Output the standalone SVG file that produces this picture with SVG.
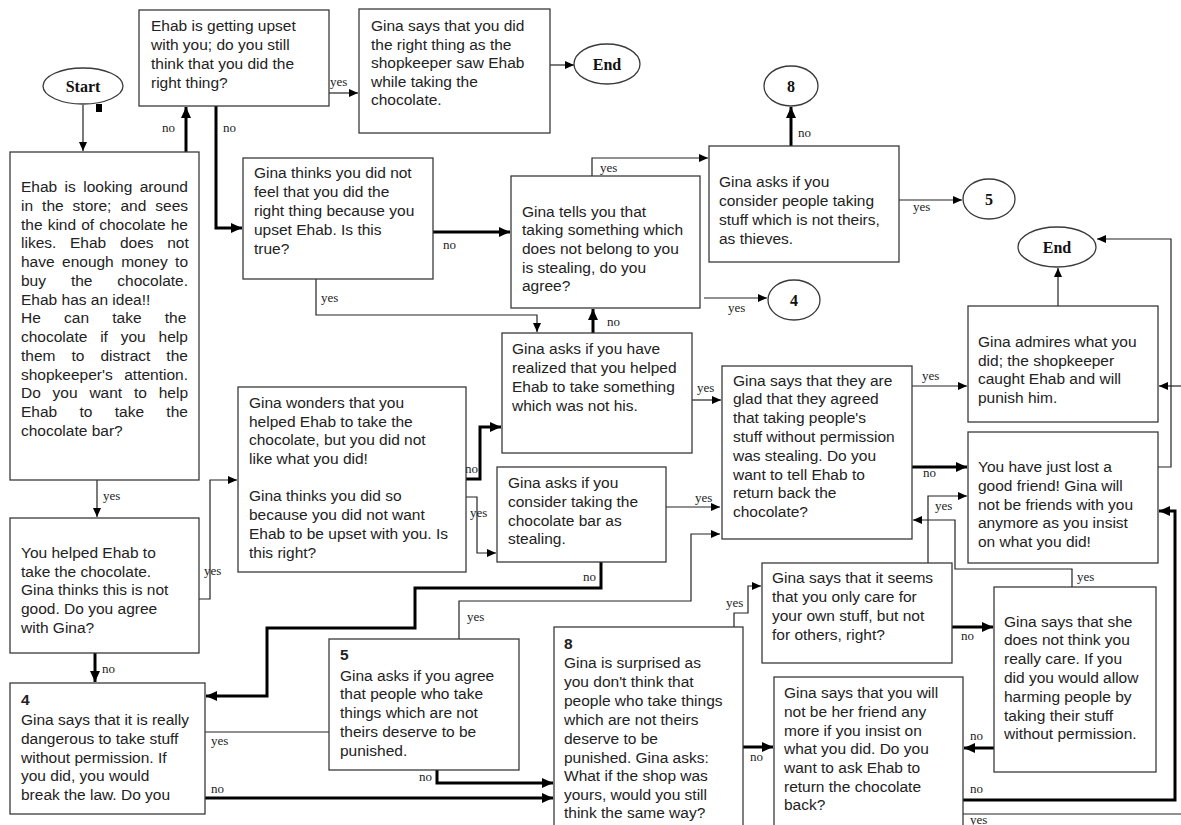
<svg xmlns="http://www.w3.org/2000/svg" width="1181" height="825" viewBox="0 0 1181 825">
<style>
.box{fill:#fff;stroke:#3a3a3a;stroke-width:1.3}
.ell{fill:#fff;stroke:#3a3a3a;stroke-width:1.3}
.t{font-family:"Liberation Sans",Arial,sans-serif;font-size:15.5px;fill:#222}
.b{font-weight:bold}
.lbl{font-family:"Liberation Serif","Times New Roman",serif;font-size:13px;fill:#222}
.term{font-family:"Liberation Serif","Times New Roman",serif;font-weight:bold;font-size:16px;fill:#111;text-anchor:middle}
.thin{fill:none;stroke:#222;stroke-width:1.2}
.thick{fill:none;stroke:#000;stroke-width:3}
.ta{marker-end:url(#ah)}
.ka{marker-end:url(#ahk)}
</style>
<defs>
<marker id="ah" markerUnits="userSpaceOnUse" markerWidth="9" markerHeight="8" refX="9" refY="4" orient="auto"><path d="M0,0 L9,4 L0,8 z" fill="#000"/></marker>
<marker id="ahk" markerUnits="userSpaceOnUse" markerWidth="11" markerHeight="10" refX="11" refY="5" orient="auto"><path d="M0,0 L11,5 L0,10 z" fill="#000"/></marker>
</defs>
<rect width="1181" height="825" fill="#fff"/>

<g id="connectors">
<path class="thin ta" d="M83,105 V151"/>
<path class="thick ka" d="M186,152 V107"/>
<path class="thick ka" d="M216,106 V228 H242"/>
<path class="thin ta" d="M329,93 H358"/>
<path class="thin ta" d="M550,65 H574"/>
<path class="thick ka" d="M433,232 H510"/>
<path class="thin ta" d="M316,279 V315 H537 V332"/>
<path class="thin ta" d="M592,176 V158 H708"/>
<path class="thick ka" d="M791,146 V107"/>
<path class="thin ta" d="M899,200 H962"/>
<path class="thin ta" d="M704,298 H767"/>
<path class="thick ka" d="M593,333 V309"/>
<path class="thin ta" d="M692,400 H721"/>
<path class="thin ta" d="M912,386 H967"/>
<path class="thick ka" d="M912,467 H967"/>
<path class="thin ta" d="M1158,467 H1171 V239 H1097"/>
<path class="thin ta" d="M1058,306 V268"/>
<path class="thin ta" d="M1181,386 H1159"/>
<path class="thin ta" d="M928,563 V496 H967"/>
<path class="thin ta" d="M1072,587 V569 H955 V520 H913"/>
<path class="thick ka" d="M952,627 H993"/>
<path class="thick ka" d="M994,748 H964"/>
<path class="thick ka" d="M963,800 H1175 V511 H1159"/>
<path class="thin" d="M963,814 H1181"/>
<path class="thick ka" d="M466,479 H480 V427 H501"/>
<path class="thin ta" d="M463,497 H477 V553 H496"/>
<path class="thin ta" d="M666,507 H720"/>
<path class="thin ta" d="M459,640 V601 H691 V534 H720"/>
<path class="thick ka" d="M601,562 V588 H415 V628 H267 V696 H206"/>
<path class="thin ta" d="M97,480 V517"/>
<path class="thin ta" d="M199,599 H210 V480 H237"/>
<path class="thick ka" d="M95,653 V682"/>
<path class="thin" d="M205,732 H329"/>
<path class="thick ka" d="M205,798 H553"/>
<path class="thick ka" d="M437,770 V783 H553"/>
<path class="thick ka" d="M743,747 H773"/>
<path class="thin ta" d="M734,627 V613 H748 V586 H761"/>
<g class="lbl">
<text x="162" y="132">no</text>
<text x="223" y="132">no</text>
<text x="330" y="86">yes</text>
<text x="443" y="249">no</text>
<text x="321" y="302">yes</text>
<text x="600" y="172">yes</text>
<text x="798" y="137">no</text>
<text x="913" y="211">yes</text>
<text x="728" y="312">yes</text>
<text x="607" y="326">no</text>
<text x="697" y="392">yes</text>
<text x="922" y="380">yes</text>
<text x="923" y="477">no</text>
<text x="935" y="510">yes</text>
<text x="1077" y="581">yes</text>
<text x="465" y="473">no</text>
<text x="470" y="517">yes</text>
<text x="695" y="502">yes</text>
<text x="583" y="581">no</text>
<text x="467" y="621">yes</text>
<text x="103" y="500">yes</text>
<text x="204" y="575">yes</text>
<text x="102" y="673">no</text>
<text x="211" y="745">yes</text>
<text x="211" y="793">no</text>
<text x="419" y="781">no</text>
<text x="750" y="761">no</text>
<text x="726" y="607">yes</text>
<text x="961" y="640">no</text>
<text x="970" y="740">no</text>
<text x="970" y="793">no</text>
<text x="970" y="824">yes</text>
</g>
</g>

<g id="start">
<ellipse class="ell" cx="83" cy="86" rx="40" ry="18"/>
<text class="term" x="83" y="92">Start</text>
<rect x="96" y="104" width="6" height="8" fill="#000"/>
</g>

<g id="n-intro">
<rect class="box" x="10" y="152" width="189" height="328"/>
<g class="t">
<text x="21" y="192" word-spacing="3.1">Ehab is looking around</text>
<text x="21" y="211" word-spacing="4.7">in the store; and sees</text>
<text x="21" y="230" word-spacing="0.8">the kind of chocolate he</text>
<text x="21" y="248" word-spacing="9.4">likes. Ehab does not</text>
<text x="21" y="267" word-spacing="3.1">have enough money to</text>
<text x="21" y="286" word-spacing="20.6">buy the chocolate.</text>
<text x="21" y="305">Ehab has an idea!!</text>
<text x="21" y="323" word-spacing="18.9">He can take the</text>
<text x="21" y="342" word-spacing="8.5">chocolate if you help</text>
<text x="21" y="361" word-spacing="11.7">them to distract the</text>
<text x="21" y="380" word-spacing="7.2">shopkeeper's attention.</text>
<text x="21" y="398" word-spacing="7.5">Do you want to help</text>
<text x="21" y="417" word-spacing="18">Ehab to take the</text>
<text x="21" y="436">chocolate bar?</text>
</g>
</g>

<g id="n-upset">
<rect class="box" x="139" y="10" width="190" height="96"/>
<g class="t">
<text x="151" y="31">Ehab is getting upset</text>
<text x="151" y="50">with you; do you still</text>
<text x="151" y="69">think that you did the</text>
<text x="151" y="88">right thing?</text>
</g>
</g>

<g id="n-right-thing">
<rect class="box" x="359" y="9" width="191" height="124"/>
<g class="t">
<text x="371" y="31">Gina says that you did</text>
<text x="371" y="50">the right thing as the</text>
<text x="371" y="68">shopkeeper saw Ehab</text>
<text x="371" y="87">while taking the</text>
<text x="371" y="105">chocolate.</text>
</g>
</g>

<g id="end1">
<ellipse class="ell" cx="607" cy="64" rx="33" ry="20"/>
<text class="term" x="607" y="70">End</text>
</g>

<g id="n-upset-ehab">
<rect class="box" x="243" y="158" width="190" height="121"/>
<g class="t">
<text x="254" y="178">Gina thinks you did not</text>
<text x="254" y="197">feel that you did the</text>
<text x="254" y="216">right thing because you</text>
<text x="254" y="235">upset Ehab. Is this</text>
<text x="254" y="254">true?</text>
</g>
</g>

<g id="n-stealing">
<rect class="box" x="511" y="176" width="189" height="132"/>
<g class="t">
<text x="522" y="217">Gina tells you that</text>
<text x="522" y="235">taking something which</text>
<text x="522" y="254">does not belong to you</text>
<text x="522" y="273">is stealing, do you</text>
<text x="522" y="291">agree?</text>
</g>
</g>

<g id="n-thieves">
<rect class="box" x="709" y="146" width="190" height="116"/>
<g class="t">
<text x="719" y="187">Gina asks if you</text>
<text x="719" y="206">consider people taking</text>
<text x="719" y="225">stuff which is not theirs,</text>
<text x="719" y="244">as thieves.</text>
</g>
</g>

<g id="c8">
<ellipse class="ell" cx="791" cy="86" rx="27" ry="20"/>
<text class="term" x="791" y="92">8</text>
</g>
<g id="c5">
<ellipse class="ell" cx="989" cy="199" rx="26" ry="20"/>
<text class="term" x="989" y="205">5</text>
</g>
<g id="c4">
<ellipse class="ell" cx="794" cy="300" rx="26" ry="20"/>
<text class="term" x="794" y="306">4</text>
</g>
<g id="end2">
<ellipse class="ell" cx="1057" cy="247" rx="39" ry="20"/>
<text class="term" x="1057" y="253">End</text>
</g>

<g id="n-realized">
<rect class="box" x="502" y="333" width="190" height="120"/>
<g class="t">
<text x="512" y="354">Gina asks if you have</text>
<text x="512" y="373">realized that you helped</text>
<text x="512" y="392">Ehab to take something</text>
<text x="512" y="411">which was not his.</text>
</g>
</g>

<g id="n-glad">
<rect class="box" x="722" y="366" width="190" height="173"/>
<g class="t">
<text x="733" y="386">Gina says that they are</text>
<text x="733" y="404">glad that they agreed</text>
<text x="733" y="423">that taking people's</text>
<text x="733" y="442">stuff without permission</text>
<text x="733" y="461">was stealing. Do you</text>
<text x="733" y="480">want to tell Ehab to</text>
<text x="733" y="498">return back the</text>
<text x="733" y="517">chocolate?</text>
</g>
</g>

<g id="n-admires">
<rect class="box" x="968" y="306" width="190" height="116"/>
<g class="t">
<text x="978" y="347">Gina admires what you</text>
<text x="978" y="366">did; the shopkeeper</text>
<text x="978" y="384">caught Ehab and will</text>
<text x="978" y="403">punish him.</text>
</g>
</g>

<g id="n-lost-friend">
<rect class="box" x="968" y="432" width="190" height="131"/>
<g class="t">
<text x="978" y="472">You have just lost a</text>
<text x="978" y="491">good friend! Gina will</text>
<text x="978" y="510">not be friends with you</text>
<text x="978" y="528">anymore as you insist</text>
<text x="978" y="547">on what you did!</text>
</g>
</g>

<g id="n-own-stuff">
<rect class="box" x="762" y="563" width="190" height="100"/>
<g class="t">
<text x="772" y="583">Gina says that it seems</text>
<text x="772" y="602">that you only care for</text>
<text x="772" y="621">your own stuff, but not</text>
<text x="772" y="640">for others, right?</text>
</g>
</g>

<g id="n-not-care">
<rect class="box" x="994" y="587" width="162" height="185"/>
<g class="t">
<text x="1004" y="627">Gina says that she</text>
<text x="1004" y="645">does not think you</text>
<text x="1004" y="664">really care. If you</text>
<text x="1004" y="683">did you would allow</text>
<text x="1004" y="702">harming people by</text>
<text x="1004" y="721">taking their stuff</text>
<text x="1004" y="739">without permission.</text>
</g>
</g>

<g id="n-not-friend">
<rect class="box" x="774" y="677" width="189" height="170"/>
<g class="t">
<text x="784" y="698">Gina says that you will</text>
<text x="784" y="717">not be her friend any</text>
<text x="784" y="736">more if you insist on</text>
<text x="784" y="754">what you did. Do you</text>
<text x="784" y="773">want to ask Ehab to</text>
<text x="784" y="792">return the chocolate</text>
<text x="784" y="810">back?</text>
</g>
</g>

<g id="n-wonders">
<rect class="box" x="238" y="387" width="228" height="185"/>
<g class="t">
<text x="249" y="408">Gina wonders that you</text>
<text x="249" y="427">helped Ehab to take the</text>
<text x="249" y="445">chocolate, but you did not</text>
<text x="249" y="464">like what you did!</text>
<text x="249" y="501">Gina thinks you did so</text>
<text x="249" y="520">because you did not want</text>
<text x="249" y="539">Ehab to be upset with you. Is</text>
<text x="249" y="558">this right?</text>
</g>
</g>

<g id="n-consider">
<rect class="box" x="497" y="467" width="169" height="95"/>
<g class="t">
<text x="508" y="488">Gina asks if you</text>
<text x="508" y="507">consider taking the</text>
<text x="508" y="526">chocolate bar as</text>
<text x="508" y="544">stealing.</text>
</g>
</g>

<g id="n-helped">
<rect class="box" x="10" y="518" width="189" height="135"/>
<g class="t">
<text x="21" y="558">You helped Ehab to</text>
<text x="21" y="577">take the chocolate.</text>
<text x="21" y="595">Gina thinks this is not</text>
<text x="21" y="614">good. Do you agree</text>
<text x="21" y="633">with Gina?</text>
</g>
</g>

<g id="n-4">
<rect class="box" x="10" y="683" width="195" height="131"/>
<g class="t">
<text class="b" x="21" y="705">4</text>
<text x="21" y="725">Gina says that it is really</text>
<text x="21" y="744">dangerous to take stuff</text>
<text x="21" y="763">without permission. If</text>
<text x="21" y="781">you did, you would</text>
<text x="21" y="800">break the law. Do you</text>
</g>
</g>

<g id="n-5">
<rect class="box" x="329" y="639" width="190" height="131"/>
<g class="t">
<text class="b" x="340" y="660">5</text>
<text x="340" y="681">Gina asks if you agree</text>
<text x="340" y="699">that people who take</text>
<text x="340" y="718">things which are not</text>
<text x="340" y="737">theirs deserve to be</text>
<text x="340" y="756">punished.</text>
</g>
</g>

<g id="n-8">
<rect class="box" x="554" y="627" width="189" height="220"/>
<g class="t">
<text class="b" x="564" y="649">8</text>
<text x="564" y="668">Gina is surprised as</text>
<text x="564" y="687">you don't think that</text>
<text x="564" y="706">people who take things</text>
<text x="564" y="725">which are not theirs</text>
<text x="564" y="744">deserve to be</text>
<text x="564" y="763">punished. Gina asks:</text>
<text x="564" y="781">What if the shop was</text>
<text x="564" y="800">yours, would you still</text>
<text x="564" y="818">think the same way?</text>
</g>
</g>
</svg>
